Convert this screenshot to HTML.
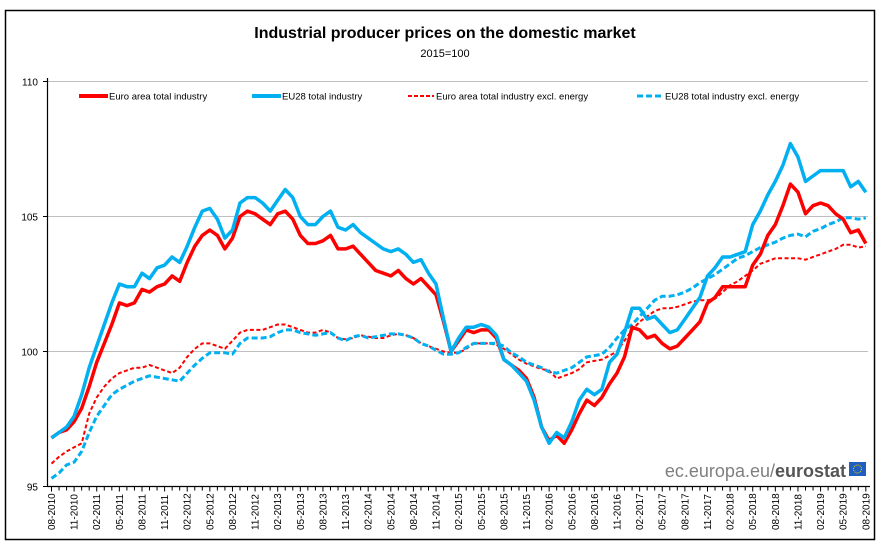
<!DOCTYPE html>
<html><head><meta charset="utf-8"><style>
body{margin:0;background:#fff;}
svg{display:block;font-family:"Liberation Sans",Arial,sans-serif;}
</style></head><body>
<svg id="chart" width="884" height="547" viewBox="0 0 884 547">
<rect x="5.5" y="10.5" width="869" height="529" fill="#fff" stroke="#000" stroke-width="1.5"/>
<text x="445" y="38" text-anchor="middle" font-size="16" font-weight="bold">Industrial producer prices on the domestic market</text>
<text x="445" y="57" text-anchor="middle" font-size="11">2015=100</text>
<g id="grid"></g>
<g id="axes"></g>
<g id="series"></g>
<g font-size="9.5">
 <g><line x1="79" y1="96" x2="108" y2="96" stroke="#ff0000" stroke-width="4"/><text x="109" y="99.5">Euro area total industry</text></g>
 <g><line x1="252" y1="96" x2="281" y2="96" stroke="#00b0f0" stroke-width="4"/><text x="282" y="99.5">EU28 total industry</text></g>
 <g><line x1="408" y1="96" x2="434" y2="96" stroke="#ff0000" stroke-width="2" stroke-dasharray="4,2"/><text x="436" y="99.5">Euro area total industry excl. energy</text></g>
 <g><line x1="637" y1="96" x2="664" y2="96" stroke="#00b0f0" stroke-width="3" stroke-dasharray="6,3"/><text x="665" y="99.5">EU28 total industry excl. energy</text></g>
</g>
<g>
 <text x="846" y="477" text-anchor="end" font-size="18" fill="#7f7f7f">ec.europa.eu/<tspan font-weight="bold" fill="#555">eurostat</tspan></text>
 <rect x="849" y="462" width="17" height="14" fill="#1f5fbf"/>
 <circle cx="857.5" cy="469" r="4" fill="none" stroke="#ffd700" stroke-width="1" stroke-dasharray="1,1.1"/>
</g>
</svg>
<script>
const ticks = ["08-2010","11-2010","02-2011","05-2011","08-2011","11-2011","02-2012","05-2012","08-2012","11-2012","02-2013","05-2013","08-2013","11-2013","02-2014","05-2014","08-2014","11-2014","02-2015","05-2015","08-2015","11-2015","02-2016","05-2016","08-2016","11-2016","02-2017","05-2017","08-2017","11-2017","02-2018","05-2018","08-2018","11-2018","02-2019","05-2019","08-2019"];
const yTicks = [95,100,105,110];
const eaTotal = [96.8,97.0,97.1,97.4,97.9,98.7,99.6,100.3,101.0,101.8,101.7,101.8,102.3,102.2,102.4,102.5,102.8,102.6,103.3,103.9,104.3,104.5,104.3,103.8,104.2,105.0,105.2,105.1,104.9,104.7,105.1,105.2,104.9,104.3,104.0,104.0,104.1,104.3,103.8,103.8,103.9,103.6,103.3,103.0,102.9,102.8,103.0,102.7,102.5,102.7,102.4,102.1,101.1,100.0,100.4,100.8,100.7,100.8,100.8,100.5,99.7,99.5,99.3,99.0,98.3,97.2,96.7,96.9,96.6,97.1,97.7,98.2,98.0,98.3,98.8,99.2,99.8,100.9,100.8,100.5,100.6,100.3,100.1,100.2,100.5,100.8,101.1,101.8,102.0,102.4,102.4,102.4,102.4,103.2,103.6,104.3,104.7,105.4,106.2,105.9,105.1,105.4,105.5,105.4,105.1,104.9,104.4,104.5,104.0];
const eu28Total = [96.8,97.0,97.2,97.6,98.4,99.4,100.2,101.0,101.8,102.5,102.4,102.4,102.9,102.7,103.1,103.2,103.5,103.3,103.9,104.6,105.2,105.3,104.9,104.2,104.5,105.5,105.7,105.7,105.5,105.2,105.6,106.0,105.7,105.0,104.7,104.7,105.0,105.2,104.6,104.5,104.7,104.4,104.2,104.0,103.8,103.7,103.8,103.6,103.3,103.4,102.9,102.5,101.2,100.0,100.5,100.9,100.9,101.0,100.9,100.6,99.7,99.5,99.2,98.9,98.2,97.2,96.6,97.0,96.8,97.4,98.2,98.6,98.4,98.6,99.6,99.9,100.7,101.6,101.6,101.2,101.3,101.0,100.7,100.8,101.2,101.6,102.0,102.8,103.1,103.5,103.5,103.6,103.7,104.7,105.2,105.8,106.3,106.9,107.7,107.2,106.3,106.5,106.7,106.7,106.7,106.7,106.1,106.3,105.9];
const eaExclEnergy = [95.85,96.1,96.3,96.45,96.6,97.7,98.3,98.7,99.0,99.2,99.3,99.4,99.4,99.5,99.4,99.3,99.2,99.4,99.8,100.1,100.3,100.3,100.2,100.1,100.4,100.7,100.8,100.8,100.8,100.9,101.0,101.0,100.9,100.8,100.7,100.7,100.8,100.7,100.5,100.45,100.5,100.6,100.55,100.5,100.5,100.6,100.65,100.6,100.5,100.3,100.2,100.1,100.0,99.95,99.95,100.1,100.3,100.3,100.3,100.25,100.1,99.9,99.7,99.55,99.45,99.35,99.3,99.0,99.1,99.2,99.35,99.6,99.65,99.7,99.85,100.0,100.4,100.8,101.1,101.3,101.5,101.6,101.6,101.65,101.75,101.85,101.9,101.9,101.95,102.2,102.45,102.6,102.8,103.0,103.25,103.35,103.45,103.45,103.45,103.45,103.4,103.5,103.6,103.7,103.8,103.95,103.95,103.85,103.9];
const eu28ExclEnergy = [95.3,95.5,95.8,95.9,96.3,97.0,97.6,98.0,98.4,98.6,98.75,98.9,99.0,99.1,99.05,99.0,98.95,98.9,99.2,99.5,99.75,99.95,99.95,99.95,99.9,100.3,100.5,100.5,100.5,100.55,100.7,100.8,100.8,100.7,100.65,100.6,100.65,100.7,100.5,100.4,100.55,100.6,100.5,100.55,100.6,100.65,100.65,100.6,100.5,100.3,100.2,100.05,99.9,99.9,99.95,100.15,100.3,100.3,100.3,100.3,100.2,99.95,99.8,99.6,99.5,99.4,99.25,99.2,99.3,99.4,99.6,99.8,99.85,99.9,100.15,100.5,100.8,101.0,101.3,101.6,101.9,102.05,102.05,102.1,102.2,102.35,102.55,102.7,102.85,103.05,103.25,103.45,103.55,103.7,103.85,103.95,104.05,104.2,104.3,104.35,104.25,104.45,104.55,104.7,104.8,104.95,104.95,104.9,104.95];

const NS = "http://www.w3.org/2000/svg";
const X0 = 51.5, XSTEP = 7.54, AXIS_X = 47.5, AXIS_Y = 486.5;
function xPos(i){ return X0 + i*XSTEP; }
function yPos(v){ return 486.5 - (v-95)*27; }
function mk(tag, attrs, parent){ const e=document.createElementNS(NS,tag); for(const k in attrs) e.setAttribute(k,attrs[k]); parent.appendChild(e); return e; }
const grid=document.getElementById('grid'), axes=document.getElementById('axes'), series=document.getElementById('series');

yTicks.forEach(v=>{
  const y=yPos(v);
  if(v>95){
    const g=mk('line',{x1:AXIS_X,x2:868,y1:y,y2:y,stroke:'#bfbfbf','stroke-width':1},grid);
    
    
  }
  const t=mk('line',{x1:43,x2:AXIS_X,y1:y,y2:y,stroke:'#000','stroke-width':1},axes);
  
  
  const l=mk('text',{x:38,y:y+4,'text-anchor':'end','font-size':10},axes);
  l.textContent=v;
  
  
});
const ya=mk('line',{x1:AXIS_X,x2:AXIS_X,y1:78,y2:AXIS_Y,stroke:'#000','stroke-width':1.2},axes);


const xa=mk('line',{x1:AXIS_X,x2:870,y1:AXIS_Y,y2:AXIS_Y,stroke:'#000','stroke-width':1.2},axes);


for(let i=0;i<eaTotal.length;i++){
  const x=xPos(i);
  const t=mk('line',{x1:x,x2:x,y1:AXIS_Y,y2:AXIS_Y+(i%3===0?5:4),stroke:'#000','stroke-width':1},axes);
  
  
}
ticks.forEach((lab,k)=>{
  const x=xPos(k*3)+3.5, y=530;
  const t=mk('text',{x:x,y:y,'font-size':10,transform:'rotate(-90 '+x+' '+y+')'},axes);
  t.textContent=lab;
  
  
});
function drawLine(data,color,width,dash,name){
  const d=data.map((v,i)=>(i?'L':'M')+xPos(i).toFixed(1)+' '+yPos(v).toFixed(1)).join(' ');
  const p=mk('path',{d:d,fill:'none',stroke:color,'stroke-width':width,'stroke-linejoin':'round'},series);
  if(dash) p.setAttribute('stroke-dasharray',dash);
  
  
}
drawLine(eaExclEnergy,'#ff0000',2,'4,2.5','line-euro-area-excl-energy');
drawLine(eu28ExclEnergy,'#00b0f0',3,'6,3','line-eu28-excl-energy');
drawLine(eaTotal,'#ff0000',3.5,null,'line-euro-area-total');
drawLine(eu28Total,'#00b0f0',3.5,null,'line-eu28-total');
</script>
</body></html>
